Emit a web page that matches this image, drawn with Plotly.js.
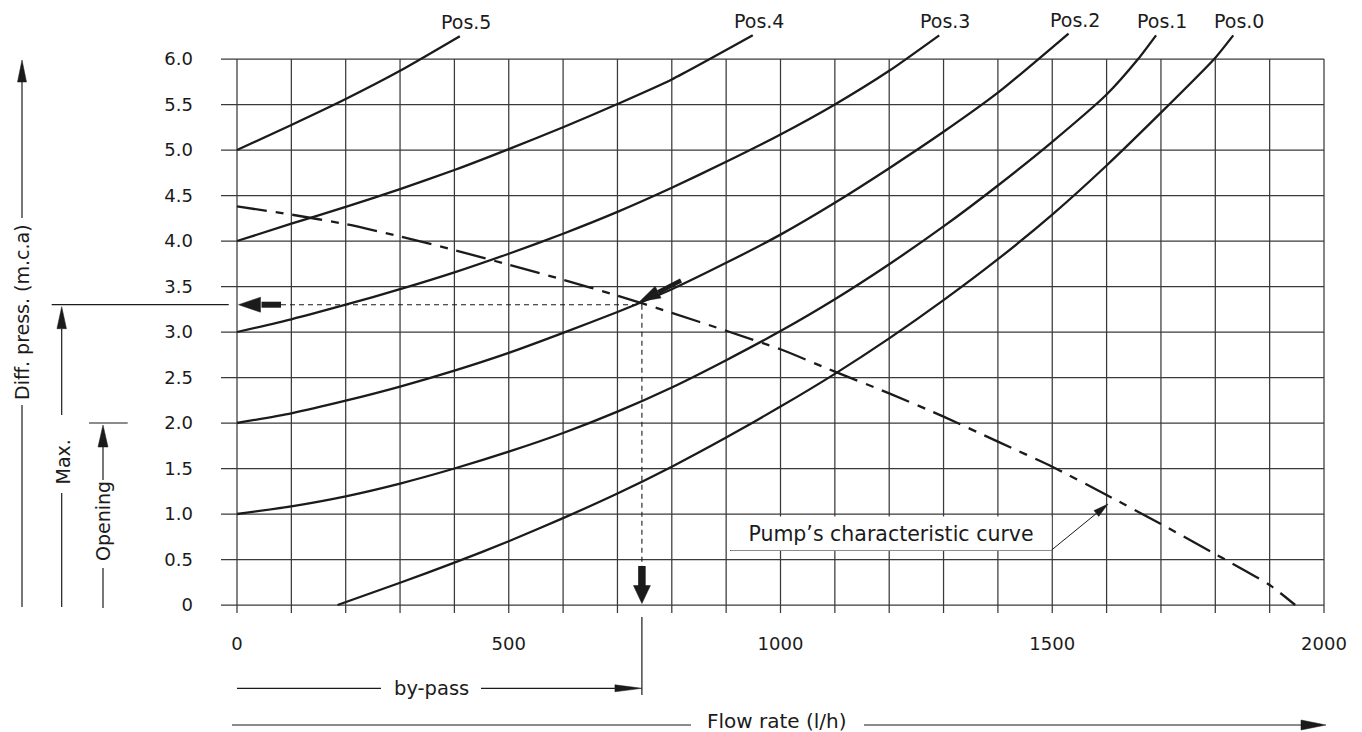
<!DOCTYPE html>
<html>
<head>
<meta charset="utf-8">
<script src="https://cdn.plot.ly/plotly-3.0.1.min.js"></script>
<style>html,body{margin:0;padding:0;background:#fff;}</style>
</head>
<body>
<div id="chart" style="width:1362px;height:732px;"></div>
<script>
// ---------------- data ----------------
const pos0Q = [185, 300, 400, 500, 600, 700, 800, 900, 1000, 1100, 1200, 1300, 1400, 1500, 1600, 1700, 1798, 1833];
const pos0P = [0, 0.245, 0.465, 0.70, 0.955, 1.225, 1.52, 1.84, 2.18, 2.54, 2.93, 3.35, 3.80, 4.29, 4.83, 5.41, 6.0, 6.26];
const pos1Q = [0, 100, 200, 300, 400, 500, 600, 700, 800, 900, 1000, 1100, 1200, 1300, 1400, 1500, 1600, 1658, 1691];
const pos1P = [1.0, 1.085, 1.195, 1.335, 1.50, 1.685, 1.89, 2.125, 2.39, 2.69, 3.01, 3.36, 3.745, 4.16, 4.61, 5.09, 5.61, 6.0, 6.26];
const pos2Q = [0, 100, 200, 300, 400, 500, 600, 700, 800, 900, 1000, 1100, 1200, 1300, 1400, 1530];
const pos2P = [2.0, 2.107, 2.245, 2.40, 2.575, 2.77, 2.99, 3.22, 3.47, 3.76, 4.07, 4.42, 4.80, 5.20, 5.63, 6.28];
const pos3Q = [0, 100, 200, 300, 400, 500, 600, 700, 800, 900, 1000, 1100, 1200, 1292];
const pos3P = [3.0, 3.14, 3.30, 3.47, 3.655, 3.86, 4.08, 4.32, 4.585, 4.87, 5.17, 5.50, 5.87, 6.26];
const pos4Q = [0, 100, 200, 300, 400, 500, 600, 700, 800, 949];
const pos4P = [4.0, 4.19, 4.375, 4.57, 4.78, 5.01, 5.25, 5.505, 5.775, 6.26];
const pos5Q = [0, 100, 200, 300, 410];
const pos5P = [5.0, 5.275, 5.56, 5.87, 6.25];
const pumpQ = [0, 100, 200, 300, 400, 500, 600, 700, 800, 900, 1000, 1100, 1200, 1300, 1400, 1500, 1600, 1700, 1800, 1900, 1947];
const pumpP = [4.38, 4.29, 4.185, 4.05, 3.90, 3.74, 3.575, 3.40, 3.21, 3.014, 2.81, 2.564, 2.326, 2.07, 1.795, 1.52, 1.209, 0.89, 0.56, 0.22, 0.0];
const posNames = ['Pos.0', 'Pos.1', 'Pos.2', 'Pos.3', 'Pos.4', 'Pos.5'];
const xTickVals = [0, 500, 1000, 1500, 2000];
const xTickText = ['0', '500', '1000', '1500', '2000'];
const yTickVals = [0, 0.5, 1.0, 1.5, 2.0, 2.5, 3.0, 3.5, 4.0, 4.5, 5.0, 5.5, 6.0];
const yTickText = ['0', '0.5', '1.0', '1.5', '2.0', '2.5', '3.0', '3.5', '4.0', '4.5', '5.0', '5.5', '6.0'];
const Q_OP = 745;      // working point flow (by-pass)
const P_OP = 3.3;      // working point pressure
const P_OPEN = 2.0;    // opening pressure
const P_TOP = 6.0;

// ---------------- geometry / style ----------------
const INK = '#1b1b1b';
const GRID = '#3a3a3a';
const FONT = 'DejaVu Sans';
const G = {L: 221, R: 1330, T: 5, B: 615, x0px: 237, xEndPx: 1324, y0px: 605, yTopPx: 59};
const sx = (G.xEndPx - G.x0px) / 2000;
const sy = (G.y0px - G.yTopPx) / 6;
const xmin = (G.L - G.x0px) / sx, xmax = (G.R - G.x0px) / sx;
const ymin = (G.y0px - G.B) / sy, ymax = (G.y0px - G.T) / sy;
const qOf = px => (px - G.x0px) / sx;
const pOf = py => (G.y0px - py) / sy;
const pxX = q => G.x0px + q * sx;
const pxY = p => G.y0px - p * sy;
const paperX = px => (px - G.L) / (G.R - G.L);
const paperY = py => (G.B - py) / (G.B - G.T);

const shapes = [];
const annotations = [];

function seg(ref, x0, y0, x1, y1, width, dash) {
  const s = {type: 'line', line: {color: INK, width: width || 1.2}};
  if (dash) s.line.dash = dash;
  if (ref === 'paper') { Object.assign(s, {xref: 'paper', yref: 'paper', x0: paperX(x0), x1: paperX(x1), y0: paperY(y0), y1: paperY(y1)}); }
  else { Object.assign(s, {xref: 'x', yref: 'y', x0: qOf(x0), x1: qOf(x1), y0: pOf(y0), y1: pOf(y1)}); }
  shapes.push(s);
}
// arrow head: tip at (tx,ty) screen px, pointing along (dx,dy) screen px
function head(ref, tx, ty, dx, dy, len, w) {
  const n = Math.hypot(dx, dy);
  const ux = dx / n, uy = -dy / n;      // y up for pixel-sized paths
  const pxp = -uy, pyp = ux;
  const bx = -ux * len, by = -uy * len;
  const f = v => v.toFixed(2);
  const path = 'M0,0 L' + f(bx + pxp * w / 2) + ',' + f(by + pyp * w / 2) + ' L' + f(bx - pxp * w / 2) + ',' + f(by - pyp * w / 2) + ' Z';
  const s = {type: 'path', xsizemode: 'pixel', ysizemode: 'pixel', path: path, fillcolor: INK, line: {color: INK, width: 0.5}};
  if (ref === 'paper') Object.assign(s, {xref: 'paper', yref: 'paper', xanchor: paperX(tx), yanchor: paperY(ty)});
  else Object.assign(s, {xref: 'x', yref: 'y', xanchor: qOf(tx), yanchor: pOf(ty)});
  shapes.push(s);
  return [tx - (dx / n) * len, ty - (dy / n) * len];
}
function label(ref, x, y, text, size, angle, extra) {
  const a = {text: text, showarrow: false, font: {family: FONT, size: size, color: INK}, textangle: angle || 0,
             xanchor: 'center', yanchor: 'middle'};
  if (ref === 'paper') Object.assign(a, {xref: 'paper', yref: 'paper', x: paperX(x), y: paperY(y)});
  else Object.assign(a, {xref: 'x', yref: 'y', x: qOf(x), y: pOf(y)});
  annotations.push(Object.assign(a, extra || {}));
}

// grid (ticks extend below zero and left of the axis)
for (let q = 0; q <= 2000; q += 100) shapes.push({type: 'line', xref: 'x', yref: 'y', layer: 'below', x0: q, x1: q, y0: pOf(613), y1: P_TOP, line: {color: GRID, width: 1.25}});
for (let i = 0; i <= 12; i++) shapes.push({type: 'line', xref: 'x', yref: 'y', layer: 'below', x0: xmin, x1: 2000, y0: i * 0.5, y1: i * 0.5, line: {color: GRID, width: 1.25}});

// working-point guides
const opX = pxX(Q_OP), opY = pxY(P_OP);
shapes.push({type: 'line', xref: 'x', yref: 'y', x0: qOf(281), x1: Q_OP, y0: P_OP, y1: P_OP, line: {color: INK, width: 1.1, dash: '5px,4px'}});
shapes.push({type: 'line', xref: 'x', yref: 'y', x0: Q_OP, x1: Q_OP, y0: P_OP, y1: pOf(567), line: {color: INK, width: 1.1, dash: '5px,4px'}});
// fat arrow to the y axis
let b = head('data', 238.5, opY, -1, 0, 22, 15);
seg('data', b[0] + 1, opY, 281, opY, 6);
// fat arrow down to x axis
b = head('data', opX, 603.5, 0, 1, 18, 17);
seg('data', opX, 566, opX, b[1] + 1, 7.5);
// fat arrow along Pos.2 to the working point
const tail = [681, 280.5], tip = [opX - 2.5, opY - 3];
b = head('data', tip[0], tip[1], tip[0] - tail[0], tip[1] - tail[1], 21, 13);
seg('data', tail[0], tail[1], b[0], b[1], 4.5);

// pump label leader
seg('data', 730, 550.5, 1051, 550.5, 1);
b = head('data', 1108, 504, 1108 - 1051, 504 - 550.5, 15, 7.5);
seg('data', 1051, 550.5, b[0], b[1], 1);
label('data', 890.5, 533.5, 'Pump\u2019s characteristic curve', 20.5, 0, {bgcolor: '#ffffff', width: 314, height: 27, borderpad: 3});

// left side: Diff. press., Max., Opening
const topY = pxY(P_TOP) + 1, maxY = opY + 2, openY = pxY(P_OPEN) + 2;
b = head('paper', 22, topY, 0, -1, 22, 9);
seg('paper', 22, b[1], 22, 218, 1.2);
seg('paper', 22, 405, 22, 607, 1.2);
label('paper', 22, 312, 'Diff. press. (m.c.a)', 19, -90);
b = head('paper', 61.7, maxY, 0, -1, 22, 9.5);
seg('paper', 61.7, b[1], 61.7, 415, 1.2);
seg('paper', 61.7, 493, 61.7, 607, 1.2);
seg('paper', 51.7, opY, 228.7, opY, 1.2);
label('paper', 62, 462.5, 'Max.', 19, -90);
b = head('paper', 103, openY, 0, -1, 22, 10);
seg('paper', 103, b[1], 103, 480, 1.2);
seg('paper', 103, 568, 103, 608, 1.2);
seg('paper', 89, pxY(P_OPEN), 127.7, pxY(P_OPEN), 1.2);
label('paper', 103, 521, 'Opening', 19, -90);

// bottom: by-pass and flow rate
b = head('paper', opX, 688.3, 1, 0, 27, 7);
seg('paper', 237, 688.3, 381, 688.3, 1.2);
seg('paper', 481, 688.3, b[0], 688.3, 1.2);
seg('paper', opX, 617, opX, 695, 1.2);
label('paper', 431, 688, 'by-pass', 19.5, 0);
b = head('paper', 1326, 725, 1, 0, 25, 10);
seg('paper', 232, 725, 691, 725, 1.2);
seg('paper', 864, 725, b[0], 725, 1.2);
label('paper', 777, 721, 'Flow rate (l/h)', 20, 0);

// ---------------- traces ----------------
const seriesQ = [pos0Q, pos1Q, pos2Q, pos3Q, pos4Q, pos5Q];
const seriesP = [pos0P, pos1P, pos2P, pos3P, pos4P, pos5P];
const traces = seriesQ.map((qs, i) => ({
  type: 'scatter', mode: 'lines', name: posNames[i], x: qs, y: seriesP[i],
  line: {color: INK, width: 2.3, shape: 'spline', smoothing: 0.6}, hoverinfo: 'skip'
}));
traces.push({type: 'scatter', mode: 'lines', name: 'Pump', x: pumpQ, y: pumpP,
  line: {color: INK, width: 2.3, dash: '30px,9px,8px,9px', shape: 'spline', smoothing: 0.6}, hoverinfo: 'skip'});

// curve labels above the curve ends
seriesQ.forEach((qs, i) => {
  annotations.push({xref: 'x', yref: 'y', x: qs[qs.length - 1], y: seriesP[i][seriesP[i].length - 1],
    text: posNames[i], showarrow: false, xanchor: 'center', yanchor: 'bottom', xshift: 6, yshift: 1,
    font: {family: FONT, size: 19, color: INK}});
});

const layout = {
  width: 1362, height: 732, showlegend: false,
  paper_bgcolor: '#ffffff', plot_bgcolor: 'rgba(0,0,0,0)',
  margin: {l: G.L, r: 1362 - G.R, t: G.T, b: 732 - G.B, pad: 0},
  xaxis: {range: [xmin, xmax], showgrid: false, zeroline: false, showline: false, ticks: '',
          tickmode: 'array', tickvals: xTickVals, ticktext: xTickText, ticklabelstandoff: 16,
          tickfont: {family: FONT, size: 18, color: INK}, fixedrange: true},
  yaxis: {range: [ymin, ymax], showgrid: false, zeroline: false, showline: false, ticks: '',
          tickmode: 'array', tickvals: yTickVals, ticktext: yTickText, ticklabelstandoff: 27,
          tickfont: {family: FONT, size: 18, color: INK}, fixedrange: true},
  shapes: shapes, annotations: annotations, hovermode: false
};
Plotly.newPlot('chart', traces, layout, {displayModeBar: false, staticPlot: true});
</script>
</body>
</html>
